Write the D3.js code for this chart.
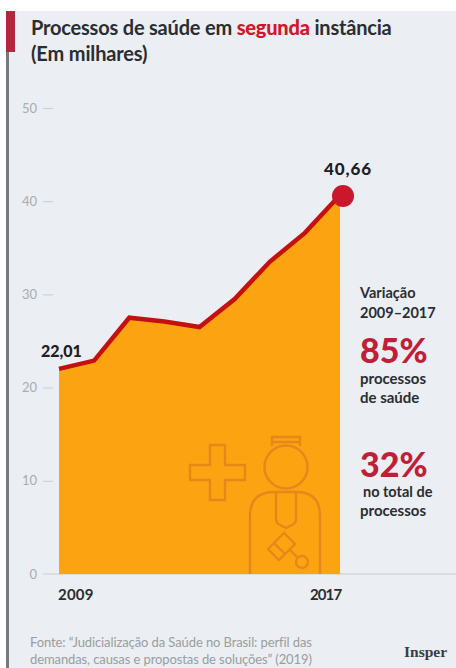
<!DOCTYPE html>
<html lang="pt">
<head>
<meta charset="utf-8">
<script src="https://cdnjs.cloudflare.com/ajax/libs/d3/7.8.5/d3.min.js"></script>
<style>
html,body{margin:0;padding:0;background:#fff;}
svg{display:block;}
text{font-family:Lato,"Open Sans",sans-serif;}
</style>
</head>
<body>
<div id="chart"></div>
<script>
// Processos de saúde em segunda instância, em milhares
const years = [2009, 2010, 2011, 2012, 2013, 2014, 2015, 2016, 2017];
const processos = [22.01, 22.9, 27.5, 27.1, 26.5, 29.5, 33.5, 36.6, 40.66];
const yTicks = [0, 10, 20, 30, 40, 50];
const xTickYears = [2009, 2017];
const endLabels = ["22,01", "40,66"];
const footnote = [
  "Fonte: “Judicialização da Saúde no Brasil: perfil das",
  "demandas, causas e propostas de soluções” (2019)"
];

const W = 456, H = 668;
const INK = "#2a2d33", LINE = "#c4100f", AREA = "#fba311", ICON = "#e5881a";

const svg = d3.select("#chart").append("svg").attr("width", W).attr("height", H);

// Panel and left rule
svg.append("rect").attr("x", 7).attr("y", 11).attr("width", W - 7).attr("height", H - 11).attr("fill", "#ebeef2");
svg.append("rect").attr("x", 6).attr("y", 11).attr("width", 3).attr("height", H - 11).attr("fill", "#77797e");
svg.append("rect").attr("x", 6).attr("y", 11).attr("width", 9).attr("height", 41).attr("fill", "#b5263c");

// Title
const title = svg.append("text").attr("x", 31).attr("y", 35)
  .attr("font-size", 20).attr("font-weight", 700).attr("fill", INK).attr("letter-spacing", -0.2);
title.append("tspan").text("Processos de saúde em ");
title.append("tspan").attr("fill", "#d3162c").attr("font-weight", 900).text("segunda");
title.append("tspan").text(" instância");
svg.append("text").attr("x", 31).attr("y", 61)
  .attr("font-size", 20).attr("font-weight", 700).attr("fill", INK).attr("letter-spacing", -0.15)
  .text("(Em milhares)");

// Scales
const x = d3.scaleLinear().domain([2009, 2017]).range([59, 340]);
const y = d3.scaleLinear().domain([0, 50]).range([574, 108]);

// Baseline
svg.append("line").attr("x1", 43).attr("x2", W).attr("y1", y(0)).attr("y2", y(0))
  .attr("stroke", "#c9ccd1").attr("stroke-width", 1);

// Y axis
const yAxis = svg.append("g").attr("transform", "translate(53,0)")
  .call(d3.axisLeft(y).tickValues(yTicks).tickSize(10).tickPadding(6));
yAxis.select(".domain").remove();
yAxis.selectAll(".tick line").attr("stroke", "#c9ccd1");
yAxis.selectAll(".tick text").attr("fill", "#a9acb0").attr("font-size", 13).style("font-family", "Lato");
yAxis.selectAll(".tick").filter(d => d === 0).select("line").remove();

// Area and line
const pts = years.map((yr, i) => ({ yr, v: processos[i] }));
svg.append("path").datum(pts).attr("fill", AREA)
  .attr("d", d3.area().x(d => x(d.yr)).y0(y(0)).y1(d => y(d.v)));

// Judge and medical cross icon over the area
const icon = svg.append("g").attr("fill", "none").attr("stroke", ICON).attr("stroke-width", 2.4);
icon.append("path").attr("d", "M210 445h15v20h20v15h-20v20h-15v-20h-20v-15h20z");
icon.append("circle").attr("cx", 286).attr("cy", 467).attr("r", 21.5);
icon.append("path").attr("d", "M272 446v-9h28v9M272 442h28");
icon.append("path").attr("d", "M250 574v-58q0 -24 24 -24h22q24 0 24 24v58");
icon.append("path").attr("d", "M276 492v27q0 4 4 6l6 3l6 -3q4 -2 4 -6v-27");
icon.append("path").attr("d", "M268 549l16 -16l11 11l-16 16zM274 543l11 11M290 550l7 7");
icon.append("circle").attr("cx", 302).attr("cy", 562).attr("r", 6);

svg.append("path").datum(pts).attr("fill", "none").attr("stroke", LINE)
  .attr("stroke-width", 4.5).attr("stroke-linejoin", "miter")
  .attr("d", d3.line().x(d => x(d.yr)).y(d => y(d.v)));

svg.append("circle").attr("cx", x(2017) + 3).attr("cy", y(processos[8]) + 1).attr("r", 11).attr("fill", "#c9182c");

// Value labels
svg.append("text").attr("x", 41).attr("y", 357).attr("font-size", 16).attr("font-weight", 900)
  .attr("fill", "#1d2026").text(endLabels[0]);
svg.append("text").attr("x", 348).attr("y", 175).attr("text-anchor", "middle").attr("font-size", 17).attr("font-weight", 900)
  .attr("letter-spacing", 0.9).attr("fill", "#1d2026").text(endLabels[1]);

// X labels
svg.selectAll(".xl").data(xTickYears).join("text").attr("class", "xl")
  .attr("x", d => d === 2009 ? 58 : 310).attr("y", 600)
  .attr("font-size", 15).attr("font-weight", 700).attr("fill", INK)
  .attr("letter-spacing", d => d === 2009 ? 0.2 : -0.9)
  .text(d => d);

// Side notes
const note = (tx, ty, txt, size, weight, fill) => svg.append("text").attr("x", tx).attr("y", ty)
  .attr("font-size", size).attr("font-weight", weight).attr("fill", fill).text(txt);
note(360, 298, "Variação", 14.5, 700, INK);
note(360, 318, "2009–2017", 14.5, 700, INK);
note(360, 363, "85%", 34, 900, "#bf2038");
note(360, 384, "processos", 15, 700, INK);
note(360, 403, "de saúde", 15, 700, INK);
note(360, 477, "32%", 34, 900, "#bf2038");
note(363, 497, "no total de", 14.5, 700, INK);
note(360, 516, "processos", 15, 700, INK);

// Source and signature
svg.selectAll(".fn").data(footnote).join("text").attr("class", "fn")
  .attr("x", 30).attr("y", (d, i) => 647 + i * 17)
  .attr("font-size", 13).attr("fill", "#9a9da1").attr("letter-spacing", -0.1).text(d => d);
svg.append("text").attr("x", 404).attr("y", 657).attr("font-size", 15.5).attr("font-weight", 700)
  .style("font-family", "'Liberation Serif',serif").attr("fill", "#3a3c40").text("Insper");
</script>
</body>
</html>
